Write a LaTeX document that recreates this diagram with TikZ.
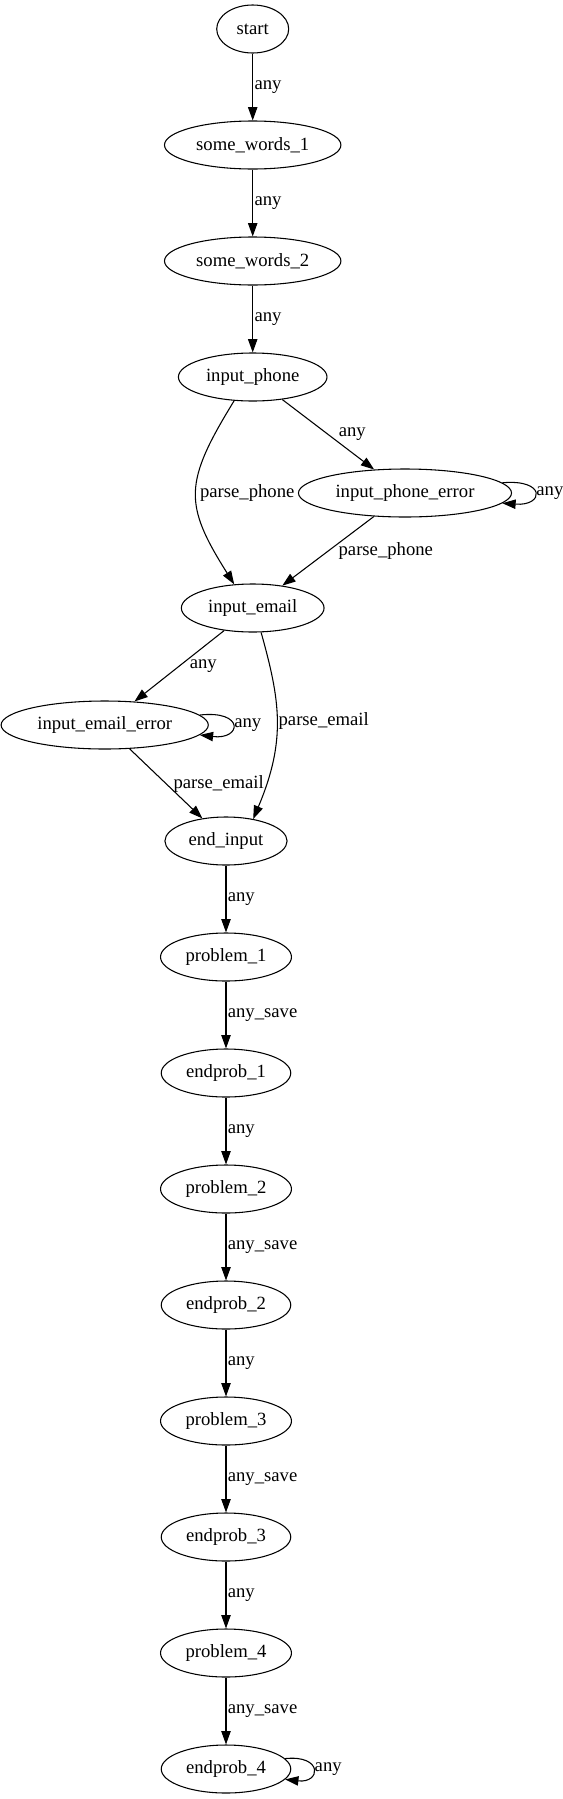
\documentclass[tikz,border=0pt]{standalone}
\usepackage{fontspec}
\setmainfont{Liberation Serif}
\usetikzlibrary{arrows.meta,shapes.geometric}
\tikzset{
  state/.style={draw, ellipse, line width=0.8pt, minimum height=36pt, minimum width=54pt, inner xsep=4.4pt, inner ysep=2pt},
  trans/.style={draw, line width=0.8pt, -{Triangle[length=10pt,width=7pt]}},
  lbl/.style={inner sep=1pt},
}
\begin{document}
\begin{tikzpicture}[x=0.75pt, y=-0.75pt, every node/.style={font=\fontsize{14}{16}\selectfont}]
\useasboundingbox (0,0) rectangle (562,1799);
% input states
\node[state] (start) at (252.7,29) {start};
\node[state] (sw1) at (252.7,145) {some\_words\_1};
\node[state] (sw2) at (252.7,261) {some\_words\_2};
\node[state] (iphone) at (252.7,377) {input\_phone};
\node[state] (iphoneerr) at (405,493) {input\_phone\_error};
\node[state] (iemail) at (252.7,608) {input\_email};
\node[state] (iemailerr) at (104.7,725) {input\_email\_error};
\node[state] (endin) at (226,841) {end\_input};
% problems
\foreach \k in {1,...,4}{%
  \node[state] (p\k) at (226,{957+232*(\k-1)}) {problem\_\k};
  \node[state] (e\k) at (226,{1073+232*(\k-1)}) {endprob\_\k};
}
\draw[trans] (start) -- (sw1) node[lbl, midway, right] {any};
\draw[trans] (sw1) -- (sw2) node[lbl, midway, right] {any};
\draw[trans] (sw2) -- (iphone) node[lbl, midway, right] {any};
\draw[trans] (iphone) -- (iphoneerr) node[lbl, midway, right=6.5pt] {any};
\draw[trans] (iphone.232) .. controls (183.6,483) and (183.6,504) .. (iemail.128)
  node[lbl, midway, right=1.5pt] {parse\_phone};
\draw[trans] (iphoneerr.6) .. controls +(44,-4) and +(42,3) .. (iphoneerr.-6)
  node[lbl, midway, right] {any};
\draw[trans] (iphoneerr) -- (iemail) node[lbl, midway, right=6.5pt] {parse\_phone};
\draw[trans] (iemail) -- (iemailerr) node[lbl, midway, right=6.5pt] {any};
\draw[trans] (iemail.289) .. controls (280,700) and (286.6,740) .. (endin.39)
  node[lbl, midway, right] {parse\_email};
\draw[trans] (iemailerr.6) .. controls +(45,-5) and +(42,5) .. (iemailerr.-6)
  node[lbl, midway, right] {any};
\draw[trans] (iemailerr) -- (endin) node[lbl, midway, right=4.3pt] {parse\_email};
\draw[trans] (endin) -- (p1) node[lbl, midway, right] {any};
\foreach \k in {1,...,4}{%
  \draw[trans] (p\k) -- (e\k) node[lbl, midway, right] {any\_save};
}
\foreach \k in {1,2,3}{%
  \pgfmathtruncatemacro\nxt{\k+1}
  \draw[trans] (e\k) -- (p\nxt) node[lbl, midway, right] {any};
}
\draw[trans] (e4.10) .. controls +(38,-4) and +(36,4) .. (e4.-10)
  node[lbl, midway, right] {any};
\end{tikzpicture}
\end{document}
